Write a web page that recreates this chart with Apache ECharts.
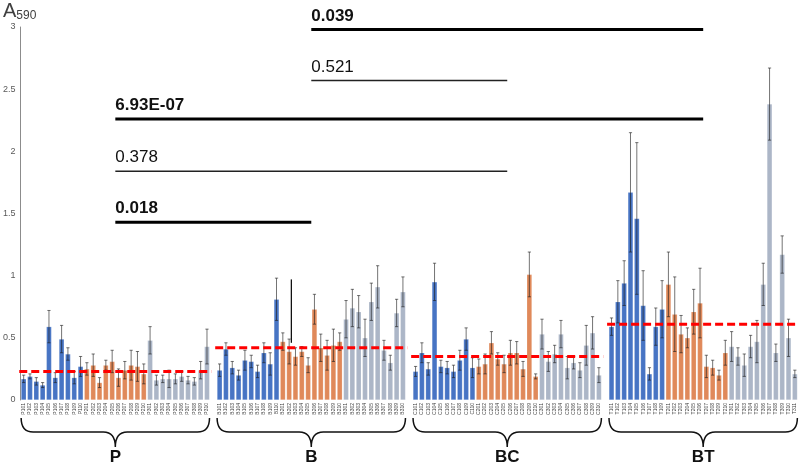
<!DOCTYPE html>
<html><head><meta charset="utf-8">
<script src="https://cdn.jsdelivr.net/npm/echarts@6/dist/echarts.min.js"></script>
<style>html,body{margin:0;padding:0;background:#fff}#c{width:799px;height:463px}</style>
</head><body><div id="c"></div>
<script>
// ---------- DATA ----------
const groupNames = ['P', 'B', 'BC', 'BT'];
const labelPrefixes = ['P', 'B', 'C', 'T'];
const subgroupCounts = [[10, 10, 10], [10, 10, 10], [10, 10, 10], [9, 10, 11]];

const pValues = [0.17,0.19,0.15,0.12,0.59,0.18,0.49,0.37,0.18,0.27, 0.25,0.28,0.14,0.28,0.31,0.18,0.24,0.28,0.27,0.21, 0.48,0.16,0.17,0.17,0.17,0.19,0.16,0.15,0.24,0.43];
const pErrors = [0.03,0.02,0.03,0.02,0.13,0.04,0.11,0.05,0.05,0.08, 0.05,0.09,0.04,0.04,0.09,0.07,0.07,0.12,0.12,0.08, 0.11,0.04,0.03,0.07,0.04,0.04,0.03,0.03,0.07,0.14];

const bValues = [0.24,0.41,0.26,0.20,0.32,0.31,0.23,0.38,0.29,0.81, 0.47,0.39,0.35,0.39,0.28,0.73,0.42,0.36,0.44,0.47, 0.65,0.74,0.71,0.50,0.79,0.91,0.40,0.30,0.70,0.87];
const bErrors = [0.05,0.05,0.05,0.04,0.08,0.05,0.05,0.08,0.09,0.17, 0.07,0.10,0.07,0.04,0.06,0.12,0.11,0.12,0.13,0.07, 0.15,0.15,0.13,0.15,0.15,0.17,0.08,0.06,0.11,0.12];

const bcValues = [0.23,0.38,0.25,0.95,0.27,0.26,0.23,0.32,0.49,0.26, 0.27,0.29,0.46,0.33,0.29,0.38,0.38,0.25,1.01,0.19, 0.53,0.31,0.37,0.53,0.26,0.30,0.24,0.44,0.54,0.20];
const bcErrors = [0.04,0.08,0.05,0.15,0.05,0.05,0.05,0.08,0.09,0.08, 0.06,0.08,0.09,0.05,0.07,0.10,0.09,0.06,0.18,0.02, 0.12,0.08,0.07,0.11,0.09,0.05,0.06,0.16,0.13,0.06];

const btValues = [0.59,0.79,0.94,1.67,1.46,0.76,0.21,0.59,0.73, 0.93,0.69,0.53,0.50,0.71,0.78,0.27,0.26,0.20,0.38, 0.43,0.35,0.28,0.43,0.47,0.93,2.38,0.38,1.17,0.50,0.21];
const btErrors = [0.07,0.17,0.18,0.48,0.61,0.28,0.05,0.15,0.23, 0.26,0.30,0.15,0.08,0.18,0.28,0.09,0.06,0.04,0.10, 0.12,0.07,0.09,0.09,0.17,0.17,0.29,0.07,0.15,0.15,0.03];

const groupMeans = [0.23, 0.42, 0.35, 0.61];

// significance comparisons: [groupA, groupB]
const sigPairs = [[1, 3], [1, 2], [0, 3], [0, 2], [0, 1]];
const sigLabels = ['0.039', '0.521', '6.93E-07', '0.378', '0.018'];
const sigBold = [true, false, true, false, true];
const sigLevels = [2.98, 2.57, 2.26, 1.84, 1.43];

// stray black line: [group, bar index, from, to]
const extraLines = [[1, 11, 0.46, 0.97]];

const yMin = 0, yMax = 3, yStep = 0.5;

// ---------- BUILD ----------
const groupValues = [pValues, bValues, bcValues, btValues];
const groupErrors = [pErrors, bErrors, bcErrors, btErrors];
const subColors = ['#4774c4', '#e0895a', '#acb6c7'];

const categories = [];
const barData = [];
const errData = [];
const groupRanges = []; // [first, last]
groupValues.forEach((vals, g) => {
  if (g > 0) { categories.push(''); barData.push('-'); }
  const first = categories.length;
  let k = 0;
  subgroupCounts[g].forEach((cnt, s) => {
    for (let j = 1; j <= cnt; j++) {
      const idx = categories.length;
      categories.push(labelPrefixes[g] + (s + 1) + String(j).padStart(2, '0'));
      barData.push({ value: vals[k], itemStyle: { color: subColors[s] } });
      errData.push([idx, vals[k] - groupErrors[g][k], vals[k] + groupErrors[g][k]]);
      k++;
    }
  });
  groupRanges.push([first, categories.length - 1]);
});

const meanData = groupMeans.map((m, g) => [groupRanges[g][0], groupRanges[g][1], m]);
const sigData = sigPairs.map((pr, i) => [groupRanges[pr[0]][0], groupRanges[pr[0]][1], groupRanges[pr[1]][0], groupRanges[pr[1]][1], sigLevels[i], i]);
const braceData = groupRanges.map((r, g) => [r[0], r[1], 0, g]);
const extraData = extraLines.map(e => [groupRanges[e[0]][0] + e[1], e[2], e[3]]);

const chart = echarts.init(document.getElementById('c'), null, { renderer: 'canvas' });
const FONT = 'Liberation Sans, Arial, sans-serif';

chart.setOption({
  animation: false,
  backgroundColor: '#ffffff',
  grid: { left: 19, right: 1, top: 27, bottom: 63, containLabel: false },
  xAxis: {
    type: 'category', data: categories,
    axisLine: { show: false }, axisTick: { show: false },
    axisLabel: { interval: 0, rotate: 90, fontSize: 5, color: '#404040', margin: 3, fontFamily: FONT }
  },
  yAxis: {
    type: 'value', min: yMin, max: yMax, interval: yStep,
    splitLine: { show: false },
    axisLine: { show: true, lineStyle: { color: '#8c8c8c', width: 1 } },
    axisTick: { show: false },
    axisLabel: { fontSize: 9, color: '#595959', margin: 5, fontFamily: FONT }
  },
  graphic: [{
    type: 'text', left: 3, top: 1,
    style: {
      text: '{a|A}{s|590}',
      rich: {
        a: { fontSize: 20, fill: '#404040', fontFamily: FONT },
        s: { fontSize: 12, fill: '#404040', fontFamily: FONT, padding: [10, 0, 0, 0] }
      }
    }
  }],
  series: [
    {
      type: 'bar', data: barData, barCategoryGap: '18%',
      itemStyle: { borderColor: 'rgba(255,255,255,0.35)', borderWidth: 0.5 }
    },
    {
      type: 'custom', data: errData, encode: { x: 0, y: [1, 2] }, z: 5, clip: false,
      renderItem(params, api) {
        const lo = api.coord([api.value(0), api.value(1)]);
        const hi = api.coord([api.value(0), api.value(2)]);
        const c = 1.6;
        const st = { stroke: 'rgba(30,30,30,0.62)', lineWidth: 1 };
        return { type: 'group', children: [
          { type: 'line', shape: { x1: lo[0], y1: lo[1], x2: hi[0], y2: hi[1] }, style: st },
          { type: 'line', shape: { x1: hi[0] - c, y1: hi[1], x2: hi[0] + c, y2: hi[1] }, style: st },
          { type: 'line', shape: { x1: lo[0] - c, y1: lo[1], x2: lo[0] + c, y2: lo[1] }, style: st }
        ]};
      }
    },
    {
      type: 'custom', data: extraData, encode: { x: 0, y: [1, 2] }, z: 6, clip: false,
      renderItem(params, api) {
        const lo = api.coord([api.value(0), api.value(1)]);
        const hi = api.coord([api.value(0), api.value(2)]);
        const w = api.size([1, 0])[0];
        const x = lo[0] + w * 0.35;
        return { type: 'line', shape: { x1: x, y1: lo[1], x2: x, y2: hi[1] }, style: { stroke: '#111', lineWidth: 1.3 } };
      }
    },
    {
      type: 'custom', data: meanData, encode: { x: [0, 1], y: 2 }, z: 7, clip: false,
      renderItem(params, api) {
        const a = api.coord([api.value(0), api.value(2)]);
        const b = api.coord([api.value(1), api.value(2)]);
        const w = api.size([1, 0])[0];
        return { type: 'line', shape: { x1: a[0] - w * 0.7, y1: a[1], x2: b[0] + w * 0.7, y2: b[1] },
          style: { stroke: '#ff0000', lineWidth: 3, lineDash: [8, 4] } };
      }
    },
    {
      type: 'custom', data: sigData, encode: { x: [0, 1, 2, 3], y: 4 }, z: 8, clip: false,
      renderItem(params, api) {
        const lvl = api.value(4);
        const i = api.value(5);
        const xa = (api.coord([api.value(0), lvl])[0] + api.coord([api.value(1), lvl])[0]) / 2;
        const xb = (api.coord([api.value(2), lvl])[0] + api.coord([api.value(3), lvl])[0]) / 2;
        const y = api.coord([api.value(0), lvl])[1];
        const bold = sigBold[i];
        return { type: 'group', children: [
          { type: 'line', shape: { x1: xa, y1: y, x2: xb, y2: y },
            style: { stroke: bold ? '#000' : '#222', lineWidth: bold ? 3 : 1.6 } },
          { type: 'text', x: xa, y: y - 5,
            style: { text: sigLabels[i], fill: '#111', fontSize: 17, fontWeight: bold ? 'bold' : 'normal',
              fontFamily: FONT, align: 'left', verticalAlign: 'bottom' } }
        ]};
      }
    },
    {
      type: 'custom', data: braceData, encode: { x: [0, 1], y: 2 }, z: 8, clip: false,
      renderItem(params, api) {
        const a = api.coord([api.value(0), 0]);
        const b = api.coord([api.value(1), 0]);
        const w = api.size([1, 0])[0];
        const x1 = a[0] - w * 0.4, x2 = b[0] + w * 0.4, xc = (x1 + x2) / 2;
        const y0 = a[1];
        const yt = y0 + 18, ym = y0 + 32, yp = y0 + 47;
        const r = 12;
        const d = `M${x1},${yt} Q${x1},${ym} ${x1 + r},${ym} L${xc - r},${ym} Q${xc},${ym} ${xc},${yp} Q${xc},${ym} ${xc + r},${ym} L${x2 - r},${ym} Q${x2},${ym} ${x2},${yt}`;
        const g = api.value(3);
        return { type: 'group', children: [
          { type: 'path', shape: { pathData: d }, style: { stroke: '#111', lineWidth: 1.5, fill: null } },
          { type: 'text', x: xc, y: y0 + 57,
            style: { text: groupNames[g], fill: '#111', fontSize: 17, fontWeight: 'bold', fontFamily: FONT, align: 'center', verticalAlign: 'middle' } }
        ]};
      }
    }
  ]
});
</script>
</body></html>
